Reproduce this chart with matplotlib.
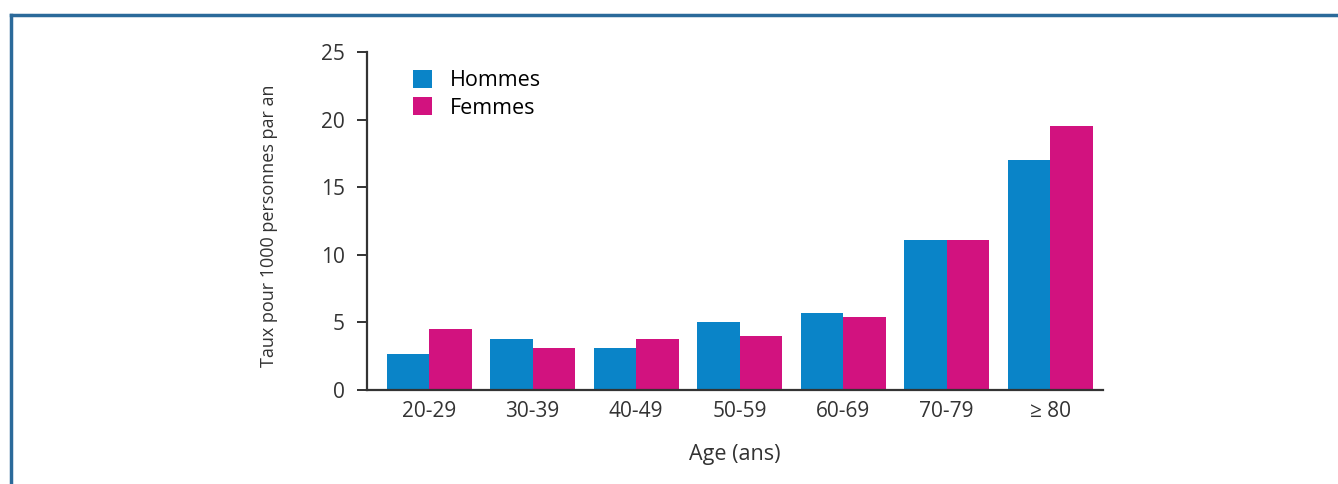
import matplotlib.pyplot as plt
import numpy as np
from matplotlib.lines import Line2D

plt.rcParams['font.family'] = ['Open Sans', 'DejaVu Sans']

# Data
ages = ['20-29', '30-39', '40-49', '50-59', '60-69', '70-79', '≥ 80']
hommes = [2.7, 3.8, 3.1, 5.0, 5.7, 11.1, 17.0]
femmes = [4.5, 3.1, 3.8, 4.0, 5.4, 11.1, 19.5]

blue = '#0a84c8'
pink = '#d2127f'

fig = plt.figure(figsize=(13.38, 4.84), dpi=100)
ax = fig.add_axes([0.2743, 0.1942, 0.5501, 0.6984])

x = np.arange(len(ages))
w = 0.41
ax.bar(x - w / 2, hommes, width=w, color=blue, label='Hommes')
ax.bar(x + w / 2, femmes, width=w, color=pink, label='Femmes')

ax.set_xlim(-0.6, 6.51)
ax.set_ylim(0, 25)
ax.set_yticks([0, 5, 10, 15, 20, 25])
ax.set_xticks(x)
ax.set_xticklabels(ages)

for s in ['top', 'right']:
    ax.spines[s].set_visible(False)
ax.spines['left'].set_linewidth(1.6)
ax.spines['bottom'].set_linewidth(1.6)
ax.spines['left'].set_color('#333333')
ax.spines['bottom'].set_color('#333333')
ax.tick_params(axis='y', length=7, width=1.4, pad=9, labelsize=15, colors='#333333')
ax.tick_params(axis='x', length=0, pad=8, labelsize=15, colors='#333333')

ax.set_ylabel('Taux pour 1000 personnes par an', fontsize=13, color='#333333')
ax.yaxis.set_label_coords(-0.121, 0.485)
ax.set_xlabel('Age (ans)', fontsize=15.5, color='#333333', labelpad=16)

ax.legend(loc='upper left', bbox_to_anchor=(0.036, 1.005), frameon=False, fontsize=15.5,
          handlelength=0.9, handleheight=0.9, handletextpad=0.8, labelspacing=0.3)

# frame lines (top and left) of the original figure box
fig.add_artist(Line2D([11 / 1338, 1], [1 - 15 / 484, 1 - 15 / 484], color='#2b6a9a', lw=2.5,
                      transform=fig.transFigure))
fig.add_artist(Line2D([11 / 1338, 11 / 1338], [0, 1 - 15 / 484], color='#2b6a9a', lw=2.5,
                      transform=fig.transFigure))

fig.savefig('out.png', dpi=100)
